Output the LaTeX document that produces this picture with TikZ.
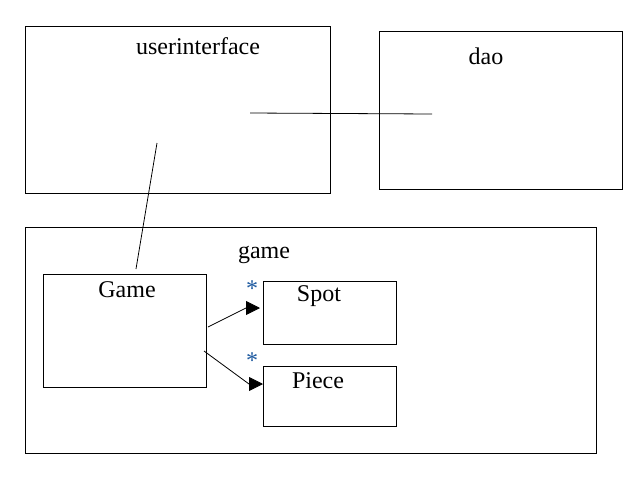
\documentclass[tikz,border=0pt]{standalone}
\usepackage{fontspec}
\setmainfont{Liberation Serif}
\usetikzlibrary{arrows.meta}
\definecolor{starblue}{RGB}{30,90,160}
\tikzset{
  box/.style={draw=black, line width=0.9pt, anchor=north west, inner sep=0pt, outer sep=0pt},
  lbl/.style={font=\fontsize{24}{28}\selectfont, inner sep=0pt},
  conn/.style={line width=0.8pt},
  tri/.style={conn, -{Triangle[length=14pt,width=14pt]}},
  mult/.style={text=starblue, font=\fontsize{24}{26}\selectfont, inner sep=0pt}
}
\begin{document}
\begin{tikzpicture}[x=1pt,y=-1pt]
	\useasboundingbox (0,0) rectangle (640,480);
	% packages
	\node [box, minimum width=305pt, minimum height=167pt] (ui) at (25,26) {};
	\node [box, minimum width=243pt, minimum height=158pt] (dao) at (379,31) {};
	\node [box, minimum width=571pt, minimum height=226pt] (game) at (25,227) {};
	\node [lbl] (uilbl) at (198,46) {userinterface};
	\node [lbl] (daolbl) at (486,56) {dao};
	\node [lbl] (gamelbl) at (264,255) {game};
	% classes
	\node [box, minimum width=163pt, minimum height=113pt] (Game) at (43,274) {};
	\node [box, minimum width=133pt, minimum height=63pt] (Spot) at (263,281) {};
	\node [box, minimum width=133pt, minimum height=60pt] (Piece) at (263,366) {};
	\node [lbl] (Gamelbl) at (127,290) {Game};
	\node [lbl] (Spotlbl) at (319,296) {Spot};
	\node [lbl] (Piecelbl) at (318,381) {Piece};
	\node [mult] (spotmult) at (252,289) {*};
	\node [mult] (piecemult) at (252,361) {*};
	% dependencies
	\coordinate (uiright) at (250,113);
	\coordinate (daoleft) at (432,114);
	\coordinate (uidown) at (157,143);
	\coordinate (gameup) at (136,269);
	\draw [conn] (uiright) -- (daoleft);
	\draw [conn] (uidown) -- (gameup);
	% associations
	\coordinate (gspot) at (208,327);
	\coordinate (spotbend) at (246,308);
	\coordinate (spotin) at (260,308);
	\coordinate (gpiece) at (204,351);
	\coordinate (piecebend) at (249,384);
	\coordinate (piecein) at (263,384);
	\draw [tri] (gspot) -- (spotbend) -- (spotin);
	\draw [tri] (gpiece) -- (piecebend) -- (piecein);
\end{tikzpicture}
\end{document}
